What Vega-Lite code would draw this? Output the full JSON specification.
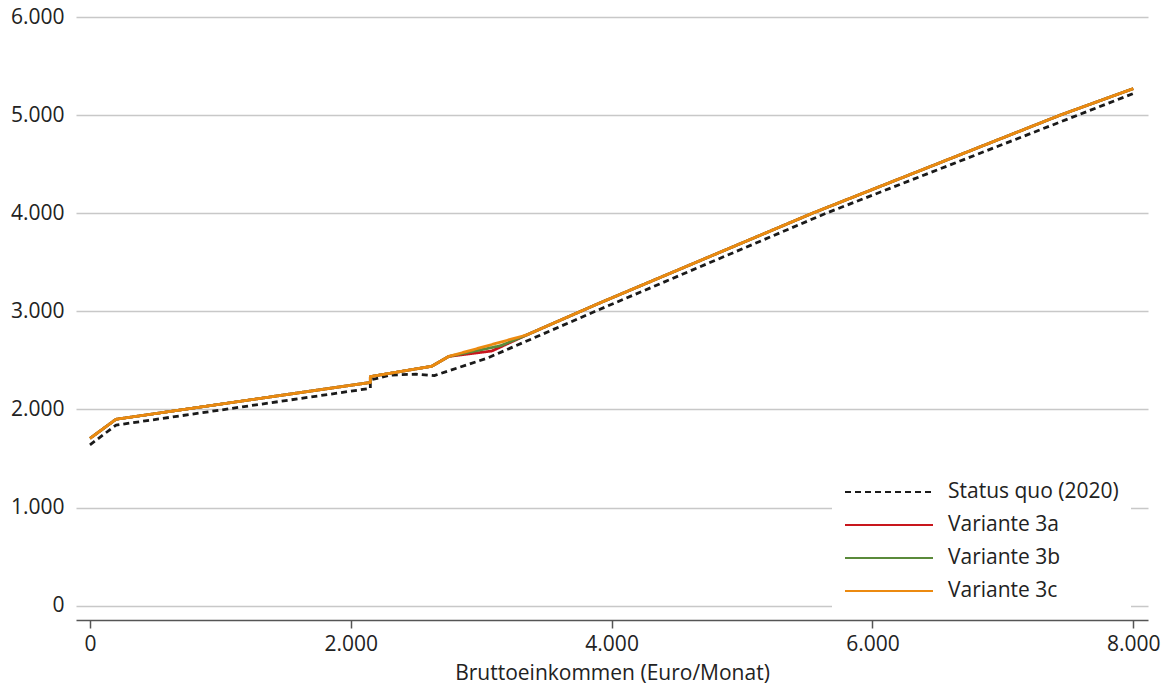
{
  "$schema": "https://vega.github.io/schema/vega-lite/v6.json",
  "width": 1072,
  "height": 603,
  "autosize": {"type": "none"},
  "padding": {"left": 76, "top": 17, "right": 22, "bottom": 68},
  "background": "white",
  "config": {"view": {"stroke": null}, "font": "Open Sans"},
  "data": {
    "values": [
      {"serie": "Status quo (2020)", "nr": 1, "einkommen": 0, "netto": 1640},
      {"serie": "Status quo (2020)", "nr": 2, "einkommen": 200, "netto": 1840},
      {"serie": "Status quo (2020)", "nr": 3, "einkommen": 2150, "netto": 2215},
      {"serie": "Status quo (2020)", "nr": 4, "einkommen": 2150, "netto": 2300},
      {"serie": "Status quo (2020)", "nr": 5, "einkommen": 2300, "netto": 2350},
      {"serie": "Status quo (2020)", "nr": 6, "einkommen": 2500, "netto": 2360},
      {"serie": "Status quo (2020)", "nr": 7, "einkommen": 2640, "netto": 2345},
      {"serie": "Status quo (2020)", "nr": 8, "einkommen": 3050, "netto": 2525},
      {"serie": "Status quo (2020)", "nr": 9, "einkommen": 3900, "netto": 3015},
      {"serie": "Status quo (2020)", "nr": 10, "einkommen": 5645, "netto": 4000},
      {"serie": "Status quo (2020)", "nr": 11, "einkommen": 7575, "netto": 5000},
      {"serie": "Status quo (2020)", "nr": 12, "einkommen": 8000, "netto": 5220},

      {"serie": "Variante 3a", "nr": 1, "einkommen": 0, "netto": 1705},
      {"serie": "Variante 3a", "nr": 2, "einkommen": 200, "netto": 1900},
      {"serie": "Variante 3a", "nr": 3, "einkommen": 2150, "netto": 2275},
      {"serie": "Variante 3a", "nr": 4, "einkommen": 2150, "netto": 2335},
      {"serie": "Variante 3a", "nr": 5, "einkommen": 2620, "netto": 2440},
      {"serie": "Variante 3a", "nr": 6, "einkommen": 2750, "netto": 2540},
      {"serie": "Variante 3a", "nr": 7, "einkommen": 3080, "netto": 2595},
      {"serie": "Variante 3a", "nr": 8, "einkommen": 3350, "netto": 2760},
      {"serie": "Variante 3a", "nr": 9, "einkommen": 3900, "netto": 3080},
      {"serie": "Variante 3a", "nr": 10, "einkommen": 5540, "netto": 4000},
      {"serie": "Variante 3a", "nr": 11, "einkommen": 7440, "netto": 5000},
      {"serie": "Variante 3a", "nr": 12, "einkommen": 8000, "netto": 5270},

      {"serie": "Variante 3b", "nr": 1, "einkommen": 0, "netto": 1705},
      {"serie": "Variante 3b", "nr": 2, "einkommen": 200, "netto": 1900},
      {"serie": "Variante 3b", "nr": 3, "einkommen": 2150, "netto": 2275},
      {"serie": "Variante 3b", "nr": 4, "einkommen": 2150, "netto": 2335},
      {"serie": "Variante 3b", "nr": 5, "einkommen": 2620, "netto": 2440},
      {"serie": "Variante 3b", "nr": 6, "einkommen": 2750, "netto": 2540},
      {"serie": "Variante 3b", "nr": 7, "einkommen": 3150, "netto": 2650},
      {"serie": "Variante 3b", "nr": 8, "einkommen": 3350, "netto": 2760},
      {"serie": "Variante 3b", "nr": 9, "einkommen": 3900, "netto": 3080},
      {"serie": "Variante 3b", "nr": 10, "einkommen": 5540, "netto": 4000},
      {"serie": "Variante 3b", "nr": 11, "einkommen": 7440, "netto": 5000},
      {"serie": "Variante 3b", "nr": 12, "einkommen": 8000, "netto": 5270},

      {"serie": "Variante 3c", "nr": 1, "einkommen": 0, "netto": 1705},
      {"serie": "Variante 3c", "nr": 2, "einkommen": 200, "netto": 1900},
      {"serie": "Variante 3c", "nr": 3, "einkommen": 2150, "netto": 2275},
      {"serie": "Variante 3c", "nr": 4, "einkommen": 2150, "netto": 2335},
      {"serie": "Variante 3c", "nr": 5, "einkommen": 2620, "netto": 2440},
      {"serie": "Variante 3c", "nr": 6, "einkommen": 2750, "netto": 2540},
      {"serie": "Variante 3c", "nr": 7, "einkommen": 3350, "netto": 2760},
      {"serie": "Variante 3c", "nr": 8, "einkommen": 3900, "netto": 3080},
      {"serie": "Variante 3c", "nr": 9, "einkommen": 5540, "netto": 4000},
      {"serie": "Variante 3c", "nr": 10, "einkommen": 7440, "netto": 5000},
      {"serie": "Variante 3c", "nr": 11, "einkommen": 8000, "netto": 5270}
    ]
  },
  "mark": {"type": "line", "strokeWidth": 2.8, "strokeJoin": "round"},
  "encoding": {
    "x": {
      "field": "einkommen",
      "type": "quantitative",
      "scale": {"domain": [-107, 8113], "nice": false, "zero": false},
      "axis": {
        "values": [0, 2000, 4000, 6000, 8000],
        "labelExpr": "replace(format(datum.value, ','), ',', '.')",
        "grid": false,
        "domainColor": "#555555",
        "domainWidth": 1.5,
        "tickColor": "#555555",
        "tickWidth": 1.5,
        "tickSize": 8,
        "labelFontSize": 21,
        "labelColor": "#222222",
        "labelPadding": 5,
        "title": "Bruttoeinkommen (Euro/Monat)",
        "titleFontSize": 21,
        "titleFontWeight": "normal",
        "titleColor": "#222222",
        "titlePadding": 8
      }
    },
    "y": {
      "field": "netto",
      "type": "quantitative",
      "scale": {"domain": [-146, 6000], "nice": false, "zero": false},
      "axis": {
        "values": [0, 1000, 2000, 3000, 4000, 5000, 6000],
        "labelExpr": "replace(format(datum.value, ','), ',', '.')",
        "grid": true,
        "gridColor": "#c8c8c8",
        "gridWidth": 1.5,
        "domain": false,
        "ticks": false,
        "labelFontSize": 21,
        "labelColor": "#222222",
        "labelPadding": 12,
        "title": null
      }
    },
    "order": {"field": "nr", "type": "quantitative"},
    "color": {
      "field": "serie",
      "type": "nominal",
      "scale": {
        "domain": ["Status quo (2020)", "Variante 3a", "Variante 3b", "Variante 3c"],
        "range": ["#1a1a1a", "#c8161d", "#5a8a3a", "#ec8a10"]
      },
      "legend": {
        "title": null,
        "orient": "none",
        "legendX": 756,
        "legendY": 451,
        "fillColor": "white",
        "padding": 12,
        "symbolType": "M-1,0H7",
        "symbolSize": 484,
        "symbolStrokeWidth": 2,
        "labelFontSize": 21,
        "labelLimit": 300,
        "labelColor": "#222222",
        "labelOffset": 80,
        "rowPadding": 11
      }
    },
    "strokeDash": {
      "field": "serie",
      "type": "nominal",
      "scale": {
        "domain": ["Status quo (2020)", "Variante 3a", "Variante 3b", "Variante 3c"],
        "range": [[6, 4], [1, 0], [1, 0], [1, 0]]
      },
      "legend": {
        "title": null,
        "orient": "none",
        "legendX": 756,
        "legendY": 451,
        "fillColor": "white",
        "padding": 12,
        "symbolType": "M-1,0H7",
        "symbolSize": 484,
        "symbolStrokeWidth": 2,
        "labelFontSize": 21,
        "labelLimit": 300,
        "labelColor": "#222222",
        "labelOffset": 80,
        "rowPadding": 11
      }
    }
  }
}
